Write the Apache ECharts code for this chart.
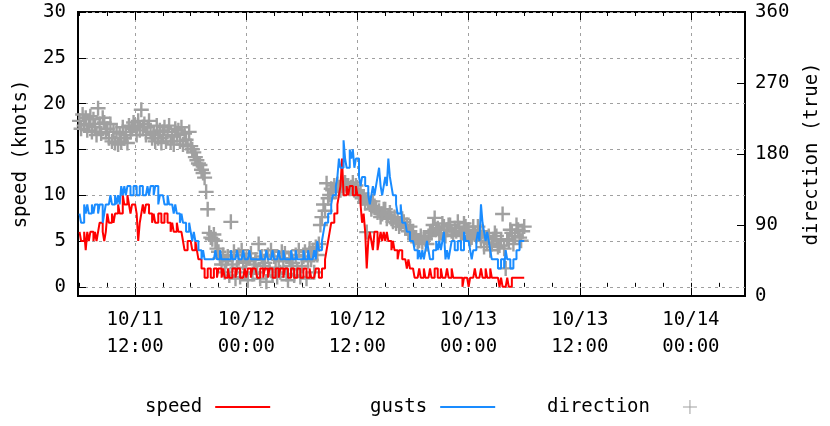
<!DOCTYPE html>
<html lang="en">
<head>
<meta charset="UTF-8">
<title>wind</title>
<script src="https://cdn.jsdelivr.net/npm/echarts@6/dist/echarts.min.js"></script>
<style>
  body, html { margin: 0; padding: 0; background: #fff; }
  #chart { width: 830px; height: 426px; }
</style>
</head>
<body>
<div id="chart"></div>
<script>
// time axis in hours since 10/11 00:00, samples every 10 minutes
var startHour = 6;
var stepHour = 1 / 6;
var axisMin = 5.8333, axisMax = 77.8333;

// one row per hour, 6 readings each
var speed = [
  6,5,5,6,4,6, 5,6,6,5,6,5, 6,7,7,6,5,6, 8,7,7,8,7,8, 8,9,8,8,10,9, 9,10,9,8,9,9,
  9,8,5,7,8,9, 8,9,9,8,8,7, 8,7,7,8,8,7, 7,8,8,7,7,6, 7,6,6,7,6,6, 6,5,4,4,5,5,
  5,4,4,5,4,3, 3,2,2,1,1,2, 2,1,1,2,2,1, 2,2,1,2,1,1, 2,1,1,2,2,1, 2,2,1,1,1,2,
  1,2,2,1,2,2, 2,1,1,2,2,1, 2,2,1,2,2,1, 1,2,2,1,2,2, 1,2,2,1,1,2, 2,1,1,2,2,1,
  1,2,2,1,1,2, 1,1,1,2,2,1, 1,2,2,3,4,5, 6,7,7,8,8,9, 10,11,14,10,10,11, 10,11,11,10,10,11,
  10,10,9,7,8,6, 2,5,6,5,4,6, 6,4,5,6,5,6, 5,6,5,5,4,5, 4,4,3,4,4,3, 3,3,2,3,2,2,
  2,1,1,1,2,1, 1,2,1,1,1,2, 1,1,2,2,1,1, 2,1,1,1,2,1, 1,2,1,1,1,1, 1,1,0,1,1,1,
  0,1,1,1,2,1, 1,1,2,1,1,2, 1,1,2,1,1,1, 1,1,0,1,0,0, 0,1,0,0,1,1, 1,1,1,1,1,1,
  1
];
var gusts = [
  8,7,7,9,8,9, 8,8,9,8,9,9, 8,9,9,7,8,9, 9,9,10,9,9,10, 9,10,9,11,10,11, 10,11,11,10,10,11,
  11,10,10,11,11,10, 10,10,11,10,11,11, 10,11,11,9,10,10, 10,9,9,10,9,9, 9,8,9,8,8,7, 8,7,7,6,6,7,
  6,5,6,5,5,4, 4,3,4,3,3,3, 3,3,3,3,4,3, 3,4,3,3,3,3, 3,3,4,3,3,3, 4,3,3,3,4,3,
  3,3,4,3,3,3, 3,3,3,4,3,3, 3,4,3,3,3,4, 3,3,3,4,3,3, 4,3,3,3,3,4, 3,3,4,3,3,3,
  3,4,3,3,4,3, 3,3,4,3,5,4, 4,5,6,7,7,8, 8,9,10,10,11,12, 14,13,13,16,14,13, 13,15,14,15,13,14,
  14,12,11,12,12,11, 11,10,9,10,11,10, 11,12,13,11,10,11, 12,11,14,12,11,10, 10,9,8,8,9,7, 7,7,6,6,5,5,
  5,4,4,3,4,3, 4,3,4,5,4,3, 3,4,4,5,4,5, 4,5,6,3,4,3, 4,5,5,4,4,5, 5,4,4,6,5,5,
  5,4,3,4,4,5, 6,5,9,7,6,5, 6,5,4,3,3,3, 3,2,2,3,3,2, 4,3,3,2,2,3, 3,4,4,5,5,5,
  5
];
var direction = [
  222,212,230,216,226,210, 218,228,208,224,214,204, 238,218,206,226,220,208,
  212,200,218,196,208,194, 208,192,206,196,214,200, 204,194,216,208,212,220,
  216,204,222,210,236,214, 218,204,214,222,208,200, 206,196,216,200,210,194,
  204,214,196,208,216,196, 202,192,212,204,210,196, 214,192,206,198,190,208,
  190,186,182,176,172,168, 166,160,156,150,132,110, 80,74,72,78,70,60,
  56,48,40,52,30,44, 50,26,94,40,56,22, 36,52,24,58,42,30,
  44,20,48,54,28,40, 46,30,66,22,50,38, 42,18,52,34,58,26,
  50,36,24,46,30,56, 44,54,28,20,48,38, 42,26,52,34,58,24,
  38,50,56,22,44,60, 46,58,30,62,52,66, 90,100,116,108,143,124,
  128,136,134,140,132,142, 138,134,142,136,144,140, 140,136,138,144,134,140,
  134,128,130,124,126,118, 81,122,116,110,120,112, 112,106,108,100,104,110,
  110,98,102,106,98,94, 100,92,96,88,92,98, 94,86,90,82,88,78,
  78,72,74,68,70,76, 68,74,72,66,76,80, 82,90,99,84,86,78,
  80,92,88,76,84,90, 90,82,78,86,82,94, 86,76,80,92,88,82,
  84,72,74,88,80,76, 88,78,70,82,62,74, 68,76,58,66,72,80,
  76,62,64,70,104,60, 35,72,70,84,80,66, 76,90,84,74,70,82,
  88
];

var minorTicks = [];
for (var t = 6; t <= 75; t += 3) minorTicks.push(t);
var majorTicks = [12, 24, 36, 48, 60, 72];
var speedTicks = [0, 5, 10, 15, 20, 25, 30];

function pairs(arr) {
  return arr.map(function (v, i) { return [startHour + i * stepHour, v]; });
}
function pad(n) { return (n < 10 ? '0' : '') + n; }

var FONT = 'DejaVu Sans Mono';
var gridLine = { show: true, lineStyle: { color: '#a0a0a0', type: [3, 4], width: 1 } };
var plus = 'path://M6.3,0H8.7V6.3H15V8.7H8.7V15H6.3V8.7H0V6.3H6.3Z';

function xAx(pos, ticks, len, labels, split) {
  return {
    type: 'value', position: pos, min: axisMin, max: axisMax,
    axisLine: { show: false },
    axisTick: { show: true, inside: true, length: len, customValues: ticks,
      lineStyle: { color: '#000', width: 1 } },
    axisLabel: labels ? {
      show: true, customValues: majorTicks, margin: 11,
      fontFamily: FONT, fontSize: 19, lineHeight: 27, color: '#000',
      formatter: function (h) {
        return '10/' + (11 + Math.floor(h / 24)) + '\n' + pad(h % 24) + ':00';
      }
    } : { show: false },
    splitLine: split ? gridLine : { show: false }
  };
}

var chart = echarts.init(document.getElementById('chart'));
chart.setOption({
  animation: false,
  grid: { left: 78, right: 78, top: 12, bottom: 130, show: true,
    borderColor: '#000', borderWidth: 2, backgroundColor: 'transparent' },
  xAxis: [
    xAx('bottom', minorTicks, 4, false, false),
    xAx('bottom', majorTicks, 8, true, true),
    xAx('top', minorTicks, 4, false, false),
    xAx('top', majorTicks, 8, false, false)
  ],
  yAxis: [{
    type: 'value', position: 'left', min: -1, max: 30,
    name: 'speed (knots)', nameLocation: 'middle', nameRotate: 90, nameGap: 47,
    nameTextStyle: { fontFamily: FONT, fontSize: 19, color: '#000' },
    axisLine: { show: false },
    axisTick: { show: true, inside: true, length: 8, customValues: speedTicks,
      lineStyle: { color: '#000' } },
    axisLabel: { customValues: speedTicks, margin: 12,
      fontFamily: FONT, fontSize: 19, color: '#000' },
    splitLine: gridLine
  }, {
    type: 'value', position: 'right', min: 0, max: 360, interval: 90,
    name: 'direction (true)', nameLocation: 'middle', nameRotate: 90, nameGap: 58,
    nameTextStyle: { fontFamily: FONT, fontSize: 19, color: '#000' },
    axisLine: { show: false },
    axisTick: { show: true, inside: true, length: 8, lineStyle: { color: '#000' } },
    axisLabel: { margin: 10, fontFamily: FONT, fontSize: 19, color: '#000' },
    splitLine: { show: false }
  }],
  legend: [{
    left: 145, top: 397, padding: 0, align: 'right', itemWidth: 55, itemHeight: 2,
    data: [{ name: 'speed', icon: 'rect' }],
    textStyle: { fontFamily: FONT, fontSize: 19, lineHeight: 20, color: '#000', padding: [0, 8, 0, 0] }
  }, {
    left: 370, top: 397, padding: 0, align: 'right', itemWidth: 55, itemHeight: 2,
    data: [{ name: 'gusts', icon: 'rect' }],
    textStyle: { fontFamily: FONT, fontSize: 19, lineHeight: 20, color: '#000', padding: [0, 8, 0, 0] }
  }, {
    left: 547, top: 397, padding: 0, align: 'right', itemWidth: 14, itemHeight: 14,
    data: [{ name: 'direction', icon: 'path://M6.5,0H7.5V6.5H14V7.5H7.5V14H6.5V7.5H0V6.5H6.5Z' }],
    textStyle: { fontFamily: FONT, fontSize: 19, lineHeight: 20, color: '#000', padding: [0, 28, 0, 0] }
  }],
  series: [{
    name: 'speed', type: 'line', step: 'end', showSymbol: false, symbol: 'none',
    xAxisIndex: 0, yAxisIndex: 0,
    lineStyle: { color: '#ff0000', width: 2 }, itemStyle: { color: '#ff0000' },
    data: pairs(speed)
  }, {
    name: 'gusts', type: 'line', step: 'end', showSymbol: false, symbol: 'none',
    xAxisIndex: 0, yAxisIndex: 0,
    lineStyle: { color: '#1a8cff', width: 2 }, itemStyle: { color: '#1a8cff' },
    data: pairs(gusts)
  }, {
    name: 'direction', type: 'scatter', symbol: plus, symbolSize: 15,
    xAxisIndex: 0, yAxisIndex: 1,
    itemStyle: { color: '#a0a0a0', opacity: 1 },
    data: pairs(direction)
  }]
});
</script>
</body>
</html>
